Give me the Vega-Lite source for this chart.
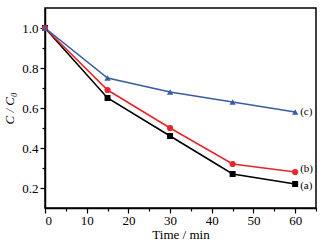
{
  "$schema": "https://vega.github.io/schema/vega-lite/v6.json",
  "width": 271,
  "height": 200,
  "autosize": {"type": "none"},
  "padding": {"left": 45, "top": 8, "right": 14, "bottom": 32},
  "background": "#ffffff",
  "config": {
    "font": "Liberation Serif",
    "view": {"stroke": "#000000", "strokeWidth": 1.5},
    "axis": {
      "labelFont": "Liberation Serif",
      "titleFont": "Liberation Serif",
      "labelFontSize": 13,
      "titleFontSize": 13,
      "titleFontWeight": "normal",
      "labelColor": "#000000",
      "titleColor": "#000000",
      "domainColor": "#000000",
      "domainWidth": 1.5,
      "tickColor": "#000000",
      "tickWidth": 1.2,
      "grid": false
    }
  },
  "data": {
    "values": [
      {"series": "a", "time": 0, "value": 1.0, "label": ""},
      {"series": "a", "time": 15, "value": 0.65, "label": ""},
      {"series": "a", "time": 30, "value": 0.46, "label": ""},
      {"series": "a", "time": 45, "value": 0.27, "label": ""},
      {"series": "a", "time": 60, "value": 0.22, "label": "(a)"},
      {"series": "b", "time": 0, "value": 1.0, "label": ""},
      {"series": "b", "time": 15, "value": 0.69, "label": ""},
      {"series": "b", "time": 30, "value": 0.50, "label": ""},
      {"series": "b", "time": 45, "value": 0.32, "label": ""},
      {"series": "b", "time": 60, "value": 0.28, "label": "(b)"},
      {"series": "c", "time": 0, "value": 1.0, "label": ""},
      {"series": "c", "time": 15, "value": 0.75, "label": ""},
      {"series": "c", "time": 30, "value": 0.68, "label": ""},
      {"series": "c", "time": 45, "value": 0.63, "label": ""},
      {"series": "c", "time": 60, "value": 0.58, "label": "(c)"}
    ]
  },
  "encoding": {
    "x": {
      "field": "time", "type": "quantitative",
      "scale": {"domain": [0, 65], "nice": false, "zero": false},
      "axis": {
        "title": "Time / min",
        "values": [0, 5, 10, 15, 20, 25, 30, 35, 40, 45, 50, 55, 60, 65],
        "labelExpr": "datum.value % 10 == 0 ? datum.label : ''",
        "tickSize": {"condition": {"test": "datum.value % 10 == 0", "value": 5}, "value": 3},
        "labelPadding": 1,
        "titlePadding": 1
      }
    },
    "y": {
      "field": "value", "type": "quantitative",
      "scale": {"domain": [0.1, 1.1], "nice": false, "zero": false},
      "axis": {
        "title": "C / C₀",
        "titleFontStyle": "italic",
        "values": [0.2, 0.3, 0.4, 0.5, 0.6, 0.7, 0.8, 0.9, 1.0],
        "format": ".1f",
        "labelExpr": "round(datum.value * 10) % 2 == 0 ? datum.label : ''",
        "tickSize": {"condition": {"test": "round(datum.value * 10) % 2 == 0", "value": 5}, "value": 3},
        "labelPadding": 2,
        "titlePadding": 5
      }
    },
    "color": {
      "field": "series", "type": "nominal",
      "scale": {"domain": ["a", "b", "c"], "range": ["#000000", "#e8262c", "#3b5ba5"]},
      "legend": null
    }
  },
  "layer": [
    {"mark": {"type": "line", "strokeWidth": 1.6}, "encoding": {}},
    {
      "mark": {"type": "point", "filled": true, "opacity": 1},
      "encoding": {
        "shape": {
          "field": "series", "type": "nominal",
          "scale": {"domain": ["a", "b", "c"], "range": ["square", "circle", "triangle-up"]},
          "legend": null
        },
        "size": {
          "field": "series", "type": "nominal",
          "scale": {"domain": ["a", "b", "c"], "range": [36, 40, 55]},
          "legend": null
        }
      }
    },
    {
      "transform": [{"filter": "datum.label == '(a)'"}],
      "mark": {"type": "text", "align": "left", "dx": 5, "dy": 2, "fontSize": 11, "font": "Liberation Serif"},
      "encoding": {"text": {"field": "label"}, "color": {"value": "#000000"}}
    },
    {
      "transform": [{"filter": "datum.label == '(b)'"}],
      "mark": {"type": "text", "align": "left", "dx": 5, "dy": -3, "fontSize": 11, "font": "Liberation Serif"},
      "encoding": {"text": {"field": "label"}, "color": {"value": "#000000"}}
    },
    {
      "transform": [{"filter": "datum.label == '(c)'"}],
      "mark": {"type": "text", "align": "left", "dx": 5, "dy": 0, "fontSize": 11, "font": "Liberation Serif"},
      "encoding": {"text": {"field": "label"}, "color": {"value": "#000000"}}
    }
  ]
}
